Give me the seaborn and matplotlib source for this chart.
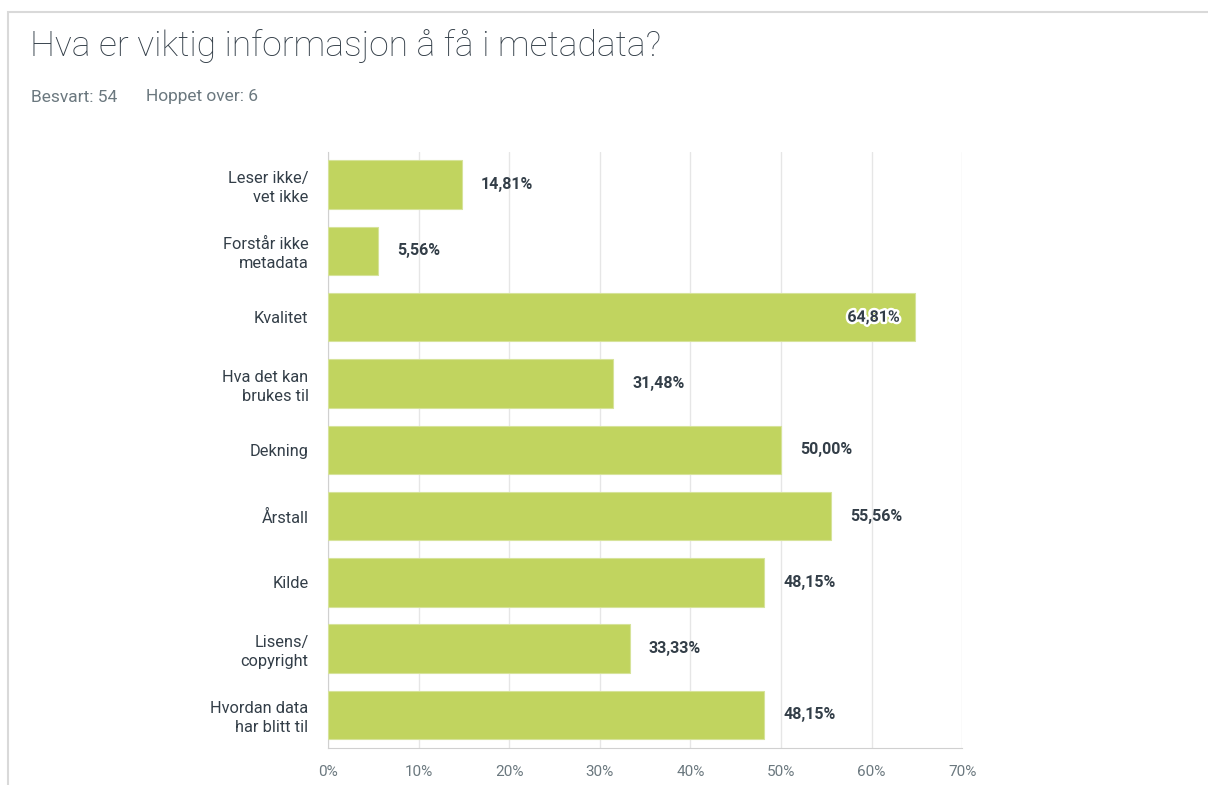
import pandas as pd
import seaborn as sns
import matplotlib.pyplot as plt
import matplotlib.patheffects as pe
from matplotlib.patches import Rectangle
from matplotlib.ticker import MultipleLocator, FuncFormatter

# Survey answers
categories = ['Leser ikke/\nvet ikke', 'Forstår ikke\nmetadata', 'Kvalitet',
              'Hva det kan\nbrukes til', 'Dekning', 'Årstall', 'Kilde',
              'Lisens/\ncopyright', 'Hvordan data\nhar blitt til']
values = [14.81, 5.56, 64.81, 31.48, 50.00, 55.56, 48.15, 33.33, 48.15]

title = 'Hva er viktig informasjon å få i metadata?'
answered = 'Besvart: 54'
skipped = 'Hoppet over: 6'

df = pd.DataFrame({'svar': categories, 'prosent': values})

sns.set_style('white')
plt.rcParams['font.family'] = ['Roboto', 'DejaVu Sans']

dark = '#333e48'
grey = '#6b787f'
green = '#c1d45f'

fig = plt.figure(figsize=(12.08, 7.85), dpi=100)
ax = fig.add_axes([0.2715, 0.047, 0.525, 0.760])

sns.barplot(data=df, x='prosent', y='svar', color=green, width=0.73,
            saturation=1, edgecolor='#d6e39a', linewidth=0.8, ax=ax, zorder=3)

ax.set_xlim(0, 70)
ax.set_ylim(len(categories) - 0.5, -0.5)
ax.xaxis.set_major_locator(MultipleLocator(10))
ax.xaxis.set_major_formatter(FuncFormatter(lambda v, p: f'{v:.0f}%'))
ax.set_xlabel('')
ax.set_ylabel('')
ax.grid(axis='x', color='#e6e6e6', linewidth=1, zorder=0)
for s in ['top', 'right']:
    ax.spines[s].set_visible(False)
ax.spines['left'].set_color('#d0d0d0')
ax.spines['bottom'].set_color('#d0d0d0')
ax.tick_params(axis='x', colors=grey, labelsize=11, length=0, pad=12)
ax.tick_params(axis='y', colors=dark, labelsize=11.8, length=0, pad=14)
for lbl in ax.get_yticklabels():
    lbl.set_color(dark)
    lbl.set_linespacing(1.3)

for i, v in enumerate(values):
    txt = f'{v:.2f}%'.replace('.', ',')
    if v > 60:
        ax.text(v - 1.7, i, txt, ha='right', va='center', fontsize=11.5,
                fontweight='semibold', color=dark, zorder=5,
                path_effects=[pe.withStroke(linewidth=3.5, foreground='white')])
    else:
        ax.text(v + 2.1, i, txt, ha='left', va='center', fontsize=11.5,
                fontweight='semibold', color=dark, zorder=5)

fig.text(30 / 1208, 1 - 46 / 785, title, fontsize=25.5, fontweight='light',
         color=dark, va='center', ha='left')
fig.text(31 / 1208, 1 - 97 / 785, answered, fontsize=12.5, color=grey,
         va='center', ha='left')
fig.text(146 / 1208, 1 - 97 / 785, skipped, fontsize=12.5, color=grey,
         va='center', ha='left')

# card border
fig.add_artist(Rectangle((8 / 1208, -0.1), 1.2, 1 - 12 / 785 + 0.1,
                         transform=fig.transFigure, fill=False,
                         edgecolor='#d9d9d9', linewidth=1.5))

fig.savefig('out.png', dpi=100)
